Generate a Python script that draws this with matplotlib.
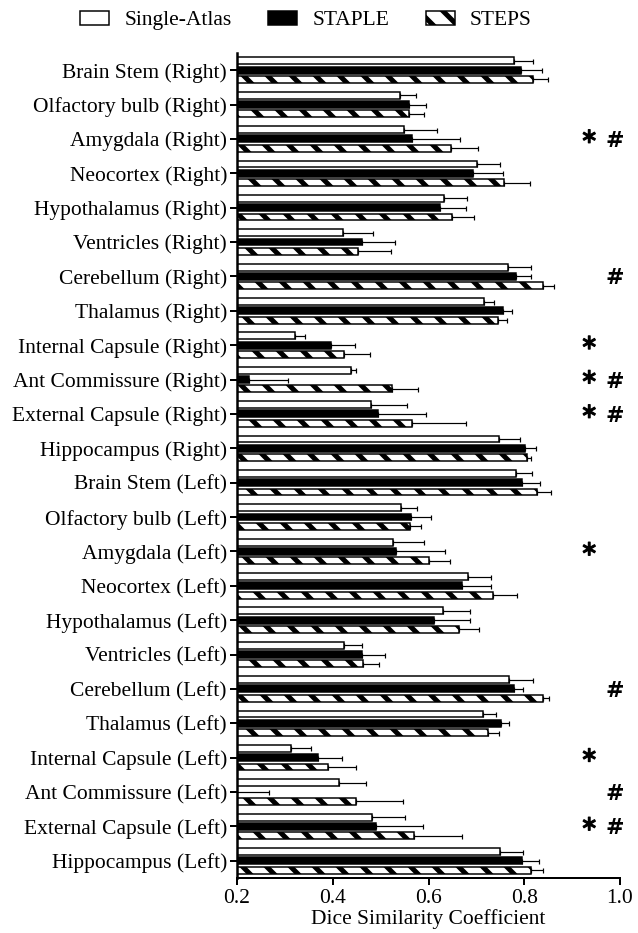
import matplotlib.pyplot as plt
import matplotlib.patheffects as pe
import numpy as np

plt.rcParams['font.family'] = 'Liberation Serif'
plt.rcParams['hatch.linewidth'] = 5.0

regions = ['Brain Stem (Right)', 'Olfactory bulb (Right)', 'Amygdala (Right)',
           'Neocortex (Right)', 'Hypothalamus (Right)', 'Ventricles (Right)',
           'Cerebellum (Right)', 'Thalamus (Right)', 'Internal Capsule (Right)',
           'Ant Commissure (Right)', 'External Capsule (Right)', 'Hippocampus (Right)',
           'Brain Stem (Left)', 'Olfactory bulb (Left)', 'Amygdala (Left)',
           'Neocortex (Left)', 'Hypothalamus (Left)', 'Ventricles (Left)',
           'Cerebellum (Left)', 'Thalamus (Left)', 'Internal Capsule (Left)',
           'Ant Commissure (Left)', 'External Capsule (Left)', 'Hippocampus (Left)']

single_atlas = [0.779, 0.540, 0.549, 0.702, 0.632, 0.422, 0.767, 0.715, 0.322, 0.439, 0.479, 0.748,
                0.782, 0.542, 0.526, 0.682, 0.630, 0.423, 0.768, 0.713, 0.312, 0.414, 0.483, 0.750]
single_atlas_sd = [0.040, 0.034, 0.069, 0.048, 0.049, 0.063, 0.047, 0.022, 0.020, 0.009, 0.077, 0.043,
                   0.035, 0.035, 0.065, 0.048, 0.057, 0.039, 0.051, 0.027, 0.042, 0.055, 0.067, 0.048]

staple = [0.793, 0.559, 0.565, 0.693, 0.625, 0.461, 0.782, 0.756, 0.397, 0.226, 0.495, 0.801,
          0.796, 0.563, 0.533, 0.670, 0.611, 0.461, 0.778, 0.751, 0.369, 0.190, 0.490, 0.795]
staple_sd = [0.044, 0.036, 0.101, 0.062, 0.053, 0.070, 0.033, 0.019, 0.049, 0.080, 0.100, 0.023,
             0.037, 0.043, 0.101, 0.061, 0.075, 0.048, 0.020, 0.017, 0.051, 0.077, 0.098, 0.036]

steps = [0.819, 0.560, 0.648, 0.757, 0.649, 0.453, 0.840, 0.746, 0.424, 0.524, 0.565, 0.806,
         0.826, 0.561, 0.602, 0.735, 0.663, 0.464, 0.840, 0.725, 0.391, 0.448, 0.569, 0.814]
steps_sd = [0.030, 0.030, 0.056, 0.056, 0.047, 0.069, 0.022, 0.018, 0.054, 0.055, 0.114, 0.009,
            0.029, 0.023, 0.043, 0.050, 0.042, 0.033, 0.011, 0.023, 0.057, 0.098, 0.102, 0.026]

# * : single-atlas vs STEPS, # : STAPLE vs STEPS
star_regions = ['Amygdala (Right)', 'Internal Capsule (Right)', 'Ant Commissure (Right)',
                'External Capsule (Right)', 'Amygdala (Left)', 'Internal Capsule (Left)',
                'External Capsule (Left)']
hash_regions = ['Amygdala (Right)', 'Cerebellum (Right)', 'Ant Commissure (Right)',
                'External Capsule (Right)', 'Cerebellum (Left)', 'Ant Commissure (Left)',
                'External Capsule (Left)']


fig = plt.figure(figsize=[638/72, 933/72], dpi=72)
ax = fig.add_axes([237/638, 55/933, 383/638, 825/933])

y = np.arange(len(regions))
h = 0.2
off = 0.27
ekw = dict(capsize=2.5, elinewidth=1.2, capthick=1.2, ecolor='black')
zeros = np.zeros(len(regions))

ax.barh(y - off, single_atlas, height=h, color='white', edgecolor='black', linewidth=1.5,
        xerr=[zeros, single_atlas_sd], error_kw=ekw, label='Single-Atlas')
ax.barh(y, staple, height=h, color='black', edgecolor='black', linewidth=1.5,
        xerr=[zeros, staple_sd], error_kw=ekw, label='STAPLE')
ax.barh(y + off, steps, height=h, color='white', edgecolor='black', linewidth=1.5,
        hatch='\\', xerr=[zeros, steps_sd], error_kw=ekw, label='STEPS')

bold = [pe.withStroke(linewidth=1.2, foreground='black')]
for i, r in enumerate(regions):
    if r in star_regions:
        ax.text(0.935, i - 0.06, r'$\ast$', fontsize=21, ha='center', va='center',
                family='DejaVu Sans', path_effects=bold)
    if r in hash_regions:
        ax.text(0.989, i + 0.06, '#', fontsize=22, ha='center', va='center', family='DejaVu Sans',
                fontweight='bold')

ax.set_xlim(0.2, 1.0)
ax.set_ylim(len(regions) - 0.5, -0.5)
ax.set_xticks([0.2, 0.4, 0.6, 0.8, 1.0])
ax.set_yticks(y)
ax.set_yticklabels(regions)
ax.set_xlabel('Dice Similarity Coefficient', fontsize=21.5, labelpad=1)

ax.spines['top'].set_visible(False)
ax.spines['right'].set_visible(False)
ax.spines['left'].set_linewidth(2.5)
ax.spines['bottom'].set_linewidth(2)
ax.tick_params(axis='y', length=7, width=2, labelsize=21.5, pad=3)
ax.tick_params(axis='x', length=7, width=2, labelsize=21.5, pad=4)

fig.legend(loc='upper center', bbox_to_anchor=(306/638, 1.0), ncol=3, frameon=False,
           fontsize=21.5, handlelength=1.35, handleheight=0.62, handletextpad=0.7,
           columnspacing=1.7, borderaxespad=0.1)

plt.savefig('out.png', dpi=72)
